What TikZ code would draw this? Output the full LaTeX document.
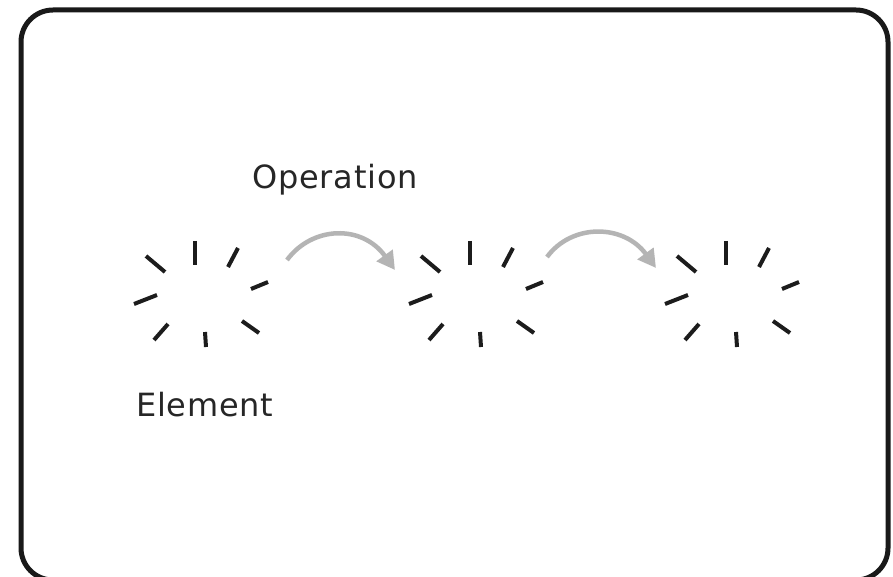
\documentclass[tikz,border=0pt]{standalone}
\usepackage{fontspec}
\setmainfont{DejaVu Sans}
\usetikzlibrary{arrows.meta}
\definecolor{dashcol}{HTML}{1C1C1C}
\definecolor{arrcol}{HTML}{B4B4B4}
\tikzset{
  x=1pt, y=1pt,
  frame/.style={draw=black!90, line width=5pt, rounded corners=32pt},
  ray/.style={draw=dashcol, line width=4pt},
  label/.style={anchor=base west, inner sep=0pt, text=black!85, font=\fontsize{32}{36}\selectfont\addfontfeatures{LetterSpace=2.5}},
  oparrow/.style={draw=arrcol, line width=4.5pt, -{Triangle[length=18pt,width=19pt]}},
  burst/.pic={
    \draw[ray] (-5,55) -- (-5,31);
    \draw[ray] (38,48) -- (28,29);
    \draw[ray] (68,14) -- (51,7);
    \draw[ray] (42,-25) -- (59,-37);
    \draw[ray] (5,-36) -- (6,-51);
    \draw[ray] (-32,-28) -- (-46,-44);
    \draw[ray] (-43,1) -- (-66,-8);
    \draw[ray] (-54,40) -- (-35,24);
  }
}
\begin{document}
\begin{tikzpicture}
\useasboundingbox (0,0) rectangle (893,576);
\fill[white] (0,0) rectangle (893,576);
\begin{scope}
\clip (0,0) rectangle (893,576);
\draw[frame] (21,-4) rectangle (888,566);
\end{scope}
\coordinate (e1) at (200,280);
\coordinate (e2) at (475,280);
\coordinate (e3) at (731,280);
\pic at (e1) {burst};
\pic at (e2) {burst};
\pic at (e3) {burst};
\coordinate (a1s) at (287,316);
\coordinate (a1e) at (395,306);
\coordinate (a2s) at (547,319);
\coordinate (a2e) at (656,308);
\draw[oparrow] (a1s) .. controls (312,350) and (362,352) .. (a1e);
\draw[oparrow] (a2s) .. controls (572,353) and (624,352) .. (a2e);
\node[label] (op) at (252,387) {Operation};
\node[label] (el) at (136,160) {Element};
\end{tikzpicture}
\end{document}
